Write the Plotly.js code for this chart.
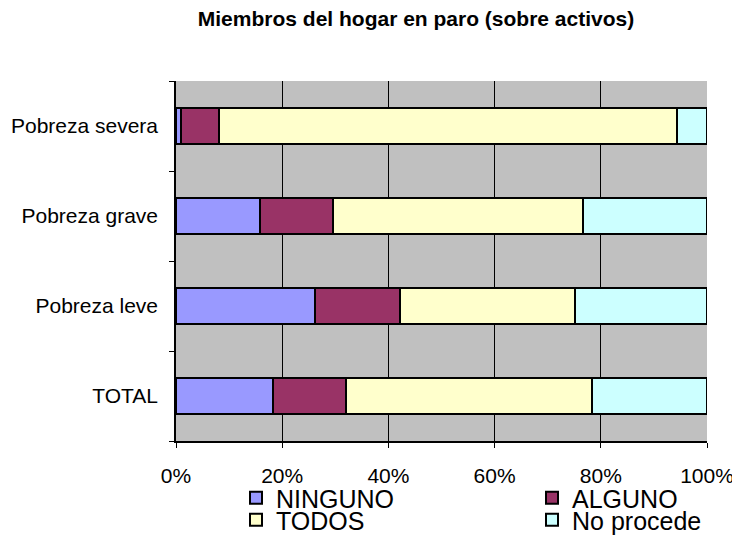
<!DOCTYPE html>
<html>
<head>
<meta charset="utf-8">
<script src="https://cdn.plot.ly/plotly-3.0.1.min.js"></script>
<style>html,body{margin:0;padding:0;background:#fff;overflow:hidden;}#chart{width:732px;height:536px;}</style>
</head>
<body>
<div id="chart"></div>
<script>
var categories = ["TOTAL", "Pobreza leve", "Pobreza grave", "Pobreza severa"];
var seriesNames = ["NINGUNO", "ALGUNO", "TODOS", "No procede"];
var ninguno   = [0.183, 0.262, 0.159, 0.009];
var alguno    = [0.138, 0.159, 0.137, 0.072];
var todos     = [0.463, 0.331, 0.470, 0.862];
var noProcede = [0.216, 0.248, 0.234, 0.057];
var xTickVals = [0, 0.2, 0.4, 0.6, 0.8, 1.0];
var xTickText = ["0%", "20%", "40%", "60%", "80%", "100%"];
var colors = ["#9999FF", "#993366", "#FFFFCC", "#CCFFFF"];
var legendIds = ["legend", "legend2", "legend3", "legend4"];

var values = [ninguno, alguno, todos, noProcede];
var font = "Liberation Sans, Arial, sans-serif";
var traces = values.map(function(v, i){
  return {
    type: "bar", orientation: "h",
    y: categories, x: v, name: seriesNames[i],
    legend: legendIds[i],
    marker: {color: colors[i], line: {color: "#000", width: 2}},
    hoverinfo: "x+name"
  };
});

function legendCfg(xPix, yPix){
  return {orientation: "h", xref: "container", yref: "container",
          x: xPix/732, xanchor: "left", y: 1 - yPix/536, yanchor: "middle",
          traceorder: "normal",
          font: {family: font, size: 25, color: "#000"},
          itemwidth: 30, borderwidth: 0, bgcolor: "rgba(0,0,0,0)"};
}

var layout = {
  width: 732, height: 536,
  barmode: "stack", bargap: 0.6,
  paper_bgcolor: "#FFFFFF", plot_bgcolor: "#C0C0C0",
  margin: {l: 176, r: 25, t: 81, b: 95, autoexpand: false},
  font: {family: font, color: "#000", size: 21},
  title: {text: "<b>Miembros del hogar en paro (sobre activos)</b>",
          xref: "container", x: 416/732, xanchor: "center",
          yref: "container", y: 1 - 19/536, yanchor: "middle",
          font: {family: font, size: 21, color: "#000"}},
  xaxis: {range: [0, 1], tickvals: xTickVals, ticktext: xTickText,
          showgrid: true, gridcolor: "#000", gridwidth: 1,
          showline: true, linecolor: "#000", linewidth: 1.5,
          ticks: "outside", ticklen: 5, tickcolor: "#000",
          ticklabelstandoff: 10, ticklabeloverflow: "allow",
          zeroline: false, fixedrange: true, automargin: false,
          tickfont: {family: font, size: 21}},
  yaxis: {type: "category", categoryorder: "array", categoryarray: categories,
          showgrid: false, showline: true, linecolor: "#000", linewidth: 1.5,
          ticks: "outside", ticklen: 5, tickcolor: "#000", tickson: "boundaries",
          ticklabelstandoff: 12, fixedrange: true, automargin: false,
          tickfont: {family: font, size: 21}},
  showlegend: true,
  legend:  legendCfg(236, 498),
  legend2: legendCfg(532, 498),
  legend3: legendCfg(236, 520),
  legend4: legendCfg(532, 520)
};

Plotly.newPlot("chart", traces, layout, {displayModeBar: false});
</script>
</body>
</html>
